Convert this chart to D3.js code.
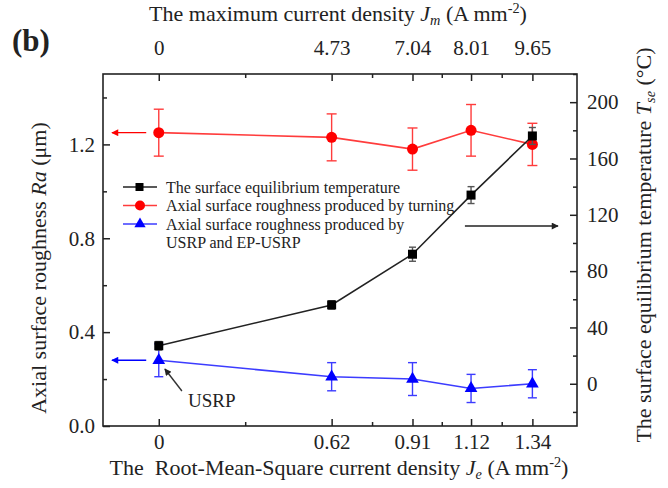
<!DOCTYPE html>
<html>
<head>
<meta charset="utf-8">
<script src="https://cdn.jsdelivr.net/npm/d3@7"></script>
<style>
  html, body { margin: 0; padding: 0; background: #fff; }
  svg { display: block; }
  text { font-family: "Liberation Serif", "Times New Roman", serif; fill: #222; }
</style>
</head>
<body>
<svg id="chart" width="668" height="488"></svg>
<script>
// ---------- data ----------
const jeValues = [0, 0.62, 0.91, 1.12, 1.34];           // bottom axis (RMS current density)
const jeLabels = ["0", "0.62", "0.91", "1.12", "1.34"];
const jmLabels = ["0", "4.73", "7.04", "8.01", "9.65"]; // top axis (max current density)
const minorX = [0.31, 0.765, 1.015, 1.23];

const tempValues = [27, 56, 92, 134, 176];              // surface equilibrium temperature (°C)
const tempErr    = [3, 3, 5, 6, 6];
const turningRa  = [1.25, 1.23, 1.18, 1.26, 1.20];      // roughness by turning (µm)
const turningErr = [0.10, 0.10, 0.09, 0.11, 0.09];
const usrpRa     = [0.28, 0.21, 0.20, 0.16, 0.18];      // roughness by USRP / EP-USRP (µm)
const usrpErr    = [0.07, 0.06, 0.07, 0.06, 0.06];

const leftTicks  = [0, 0.4, 0.8, 1.2];
const leftMinor  = [0.2, 0.6, 1.0, 1.4];
const rightTicks = [0, 40, 80, 120, 160, 200];
const rightMinor = [-20, 20, 60, 100, 140, 180, 220];

// ---------- layout ----------
const svg = d3.select("#chart");
const L = 103, R = 577, T = 74, B = 426;
const x = d3.scaleLinear().domain([-0.2, 1.5]).range([L, R]);
const yL = d3.scaleLinear().domain([0, 1.5]).range([B, T]);
const yR = d3.scaleLinear().domain([-30, 220]).range([B, T]);

const FS = 21;      // tick labels
const FT = 22;      // axis titles
const RED = "#ff0000", REDL = "#ff3c3c";
const BLUE = "#0000ff", BLUEL = "#3c3cff";

// arrow markers
const defs = svg.append("defs");
function arrowMarker(id, color) {
  defs.append("marker").attr("id", id).attr("viewBox", "0 0 10 10")
    .attr("refX", 9).attr("refY", 5).attr("markerWidth", 11).attr("markerHeight", 7)
    .attr("markerUnits", "userSpaceOnUse").attr("orient", "auto")
    .append("path").attr("d", "M0,0 L10,5 L0,10 Z").attr("fill", color);
}
arrowMarker("arR", RED); arrowMarker("arB", BLUE); arrowMarker("arK", "#222");

// ---------- axes ----------
function fmtFrom(values, labels) { return d => labels[values.indexOf(d)] ?? ""; }

const axB = svg.append("g").attr("transform", `translate(0,${B})`)
  .call(d3.axisBottom(x).tickValues(jeValues).tickFormat(fmtFrom(jeValues, jeLabels)).tickSizeInner(-7).tickSizeOuter(0).tickPadding(8));
const axBm = svg.append("g").attr("transform", `translate(0,${B})`)
  .call(d3.axisBottom(x).tickValues(minorX).tickFormat("").tickSizeInner(-4).tickSizeOuter(0));
const axT = svg.append("g").attr("transform", `translate(0,${T})`)
  .call(d3.axisTop(x).tickValues(jeValues).tickFormat(fmtFrom(jeValues, jmLabels)).tickSizeInner(-7).tickSizeOuter(0).tickPadding(19));
const axTm = svg.append("g").attr("transform", `translate(0,${T})`)
  .call(d3.axisTop(x).tickValues(minorX).tickFormat("").tickSizeInner(-4).tickSizeOuter(0));
const axL = svg.append("g").attr("transform", `translate(${L},0)`)
  .call(d3.axisLeft(yL).tickValues(leftTicks).tickFormat(d3.format(".1f")).tickSizeInner(-7).tickSizeOuter(0).tickPadding(8));
const axLm = svg.append("g").attr("transform", `translate(${L},0)`)
  .call(d3.axisLeft(yL).tickValues(leftMinor).tickFormat("").tickSizeInner(-4).tickSizeOuter(0));
const axR = svg.append("g").attr("transform", `translate(${R},0)`)
  .call(d3.axisRight(yR).tickValues(rightTicks).tickFormat(d3.format("d")).tickSizeInner(-7).tickSizeOuter(0).tickPadding(10));
const axRm = svg.append("g").attr("transform", `translate(${R},0)`)
  .call(d3.axisRight(yR).tickValues(rightMinor).tickFormat("").tickSizeInner(-4).tickSizeOuter(0));

[axB, axBm, axT, axTm, axL, axLm, axR, axRm].forEach(g => {
  g.select(".domain").remove();
  g.selectAll("line").attr("stroke", "#222").attr("stroke-width", 1.5);
  g.selectAll("text").attr("font-size", FS).attr("font-family", "Liberation Serif").attr("fill", "#222");
});
// frame
svg.append("rect").attr("x", L).attr("y", T).attr("width", R - L).attr("height", B - T)
  .attr("fill", "none").attr("stroke", "#222").attr("stroke-width", 1.6);

// ---------- axis titles ----------
function subTitle(g, parts) {
  const t = g.append("text").attr("font-size", FT).attr("text-anchor", "middle");
  parts.forEach(p => {
    const s = t.append("tspan").text(p.t);
    if (p.i) s.attr("font-style", "italic");
    if (p.sub) s.attr("font-size", FT * 0.65).attr("baseline-shift", "-25%");
    if (p.sup) s.attr("font-size", FT * 0.65).attr("baseline-shift", "55%");
  });
  return t;
}
subTitle(svg.append("g").attr("transform", "translate(338,21)"),
  [{t: "The maximum current density "}, {t: "J", i: 1}, {t: "m", i: 1, sub: 1}, {t: " (A mm"}, {t: "-2", sup: 1}, {t: ")"}]);
subTitle(svg.append("g").attr("transform", "translate(339,475)"),
  [{t: "The\u00a0\u00a0Root-Mean-Square current density "}, {t: "J", i: 1}, {t: "e", i: 1, sub: 1}, {t: " (A mm"}, {t: "-2", sup: 1}, {t: ")"}]);
subTitle(svg.append("g").attr("transform", "translate(46,268) rotate(-90)"),
  [{t: "Axial surface roughness "}, {t: "Ra", i: 1}, {t: " (\u03bcm)"}]);
subTitle(svg.append("g").attr("transform", "translate(651,245) rotate(-90)"),
  [{t: "The surface equilibrium temperature  "}, {t: "T", i: 1}, {t: "se", i: 1, sub: 1}, {t: " (\u00b0C)"}]);

svg.append("text").attr("x", 12).attr("y", 51).attr("font-size", 31).attr("font-weight", "bold").attr("fill", "#111").text("(b)");

// ---------- series ----------
const idx = d3.range(jeValues.length);
function errorBars(vals, errs, y, color, cap) {
  const g = svg.append("g").attr("stroke", color).attr("stroke-width", 1.4);
  idx.forEach(i => {
    const cx = x(jeValues[i]), y1 = y(vals[i] + errs[i]), y0 = y(vals[i] - errs[i]);
    g.append("line").attr("x1", cx).attr("x2", cx).attr("y1", y1).attr("y2", y0);
    g.append("line").attr("x1", cx - cap).attr("x2", cx + cap).attr("y1", y1).attr("y2", y1);
    g.append("line").attr("x1", cx - cap).attr("x2", cx + cap).attr("y1", y0).attr("y2", y0);
  });
}
function seriesLine(vals, y, color) {
  svg.append("path").datum(idx)
    .attr("d", d3.line().x(i => x(jeValues[i])).y(i => y(vals[i])))
    .attr("fill", "none").attr("stroke", color).attr("stroke-width", 1.6);
}

// red: turning
seriesLine(turningRa, yL, REDL);
errorBars(turningRa, turningErr, yL, REDL, 5);
svg.append("g").selectAll("circle").data(idx).join("circle")
  .attr("cx", i => x(jeValues[i])).attr("cy", i => yL(turningRa[i])).attr("r", 5.5).attr("fill", RED);

// blue: USRP / EP-USRP
seriesLine(usrpRa, yL, BLUEL);
errorBars(usrpRa, usrpErr, yL, BLUEL, 4.5);
const tri = d3.symbol().type(d3.symbolTriangle).size(70);
svg.append("g").selectAll("path").data(idx).join("path")
  .attr("transform", i => `translate(${x(jeValues[i])},${yL(usrpRa[i])})`)
  .attr("d", tri).attr("fill", BLUE);

// black: temperature
seriesLine(tempValues, yR, "#222");
errorBars(tempValues, tempErr, yR, "#555", 3.5);
svg.append("g").selectAll("rect.sq").data(idx).join("rect").attr("class", "sq")
  .attr("x", i => x(jeValues[i]) - 4.5).attr("y", i => yR(tempValues[i]) - 4.5)
  .attr("width", 9).attr("height", 9).attr("fill", "#000");

// ---------- annotation arrows ----------
const arrowX = [-0.045, -0.168];
svg.append("line").attr("x1", x(arrowX[0])).attr("x2", x(arrowX[1]))
  .attr("y1", yL(turningRa[0])).attr("y2", yL(turningRa[0]))
  .attr("stroke", RED).attr("stroke-width", 1.4).attr("marker-end", "url(#arR)");
svg.append("line").attr("x1", x(arrowX[0])).attr("x2", x(arrowX[1]))
  .attr("y1", yL(usrpRa[0])).attr("y2", yL(usrpRa[0]))
  .attr("stroke", BLUE).attr("stroke-width", 1.4).attr("marker-end", "url(#arB)");
const tempArrowX = [1.098, 1.432], tempArrowY = 112;
svg.append("line").attr("x1", x(tempArrowX[0])).attr("x2", x(tempArrowX[1]))
  .attr("y1", yR(tempArrowY)).attr("y2", yR(tempArrowY))
  .attr("stroke", "#222").attr("stroke-width", 1.4).attr("marker-end", "url(#arK)");

// USRP label
const usrpLabel = {x: 0.105, y: 0.11}, usrpArrow = [[0.083, 0.149], [0.022, 0.243]];
svg.append("line").attr("x1", x(usrpArrow[0][0])).attr("y1", yL(usrpArrow[0][1]))
  .attr("x2", x(usrpArrow[1][0])).attr("y2", yL(usrpArrow[1][1]))
  .attr("stroke", "#333").attr("stroke-width", 1.4).attr("marker-end", "url(#arK)");
svg.append("text").attr("x", x(usrpLabel.x)).attr("y", yL(usrpLabel.y) + 7)
  .attr("font-size", 19).text("USRP");

// ---------- legend ----------
const legend = svg.append("g").attr("transform", "translate(123,187)");
const legItems = [
  {label: ["The surface equilibrium temperature"], color: "#222", mk: "sq"},
  {label: ["Axial surface roughness produced by turning"], color: REDL, mk: "ci"},
  {label: ["Axial surface roughness produced by", "USRP and EP-USRP"], color: BLUEL, mk: "tr"}
];
let ly = 0;
legItems.forEach(it => {
  const g = legend.append("g").attr("transform", `translate(0,${ly})`);
  g.append("line").attr("x1", 0).attr("x2", 34).attr("stroke", it.color).attr("stroke-width", 1.6);
  if (it.mk === "sq") g.append("rect").attr("x", 12.5).attr("y", -4).attr("width", 8).attr("height", 8).attr("fill", "#000");
  if (it.mk === "ci") g.append("circle").attr("cx", 17).attr("r", 5).attr("fill", RED);
  if (it.mk === "tr") g.append("path").attr("transform", "translate(17,0)").attr("d", d3.symbol().type(d3.symbolTriangle).size(55)).attr("fill", BLUE);
  it.label.forEach((s, k) => {
    g.append("text").attr("x", 43).attr("y", 5.5 + k * 18.5).attr("font-size", 16).text(s);
  });
  ly += 18.5 * it.label.length;
});
</script>
</body>
</html>
